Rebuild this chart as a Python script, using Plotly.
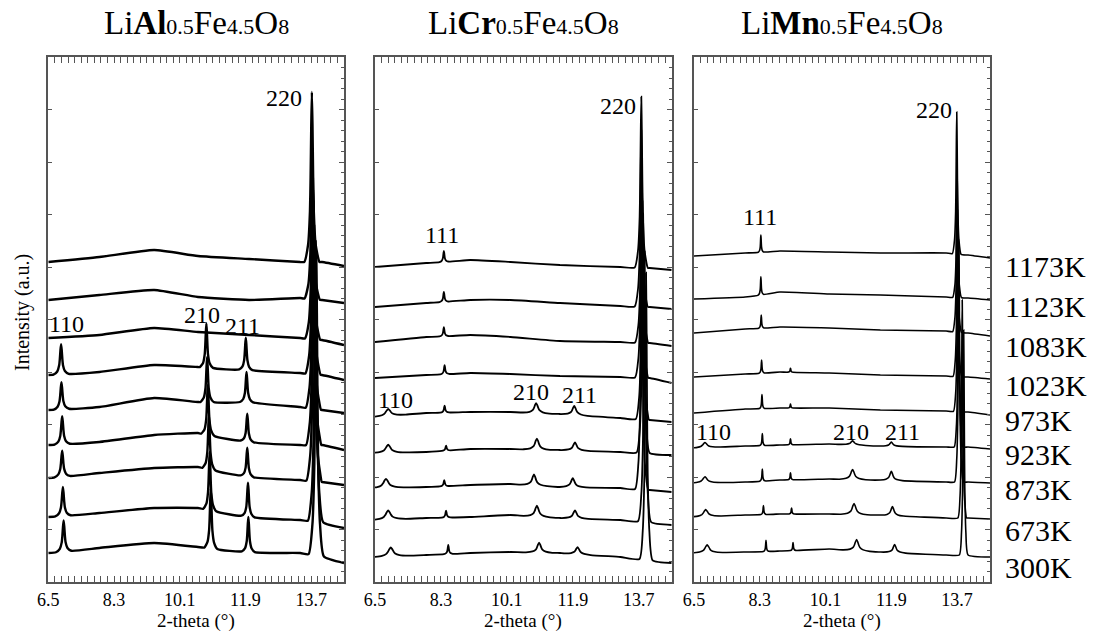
import numpy as np
import plotly.graph_objects as go

# ---------------- data ----------------
temps = ["1173K", "1123K", "1083K", "1023K", "973K", "923K", "873K", "673K", "300K"]
titles = [
    "Li<b>Al</b><span style='font-size:22px'>0.5</span>Fe<span style='font-size:22px'>4.5</span>O<span style='font-size:22px'>8</span>",
    "Li<b>Cr</b><span style='font-size:22px'>0.5</span>Fe<span style='font-size:22px'>4.5</span>O<span style='font-size:22px'>8</span>",
    "Li<b>Mn</b><span style='font-size:22px'>0.5</span>Fe<span style='font-size:22px'>4.5</span>O<span style='font-size:22px'>8</span>",
]
x_major_ticks = [6.5, 7.4, 8.3, 9.2, 10.1, 11.0, 11.9, 12.8, 13.7, 14.6]
x_tick_labels = ["6.5", "", "8.3", "", "10.1", "", "11.9", "", "13.7", ""]

# generic peak profile (offsets in HWHM units, fraction of peak height)
peak_dx = [-6, -3, -1.5, -1, -0.5, 0, 0.5, 1, 1.5, 3, 6]
peak_frac = [0, 0.1, 0.3, 0.5, 0.8, 1, 0.8, 0.5, 0.3, 0.1, 0]

# ---- LiAl0.5Fe4.5O8 ----
al_base_x = [6.5, 7.9, 9.4, 10.6, 12.0, 13.4, 14.0, 14.6]
al_base = [
    [320, 325, 332, 326, 323, 320, 320, 316],
    [282, 287, 292, 285, 282, 284, 282, 279],
    [244, 247, 254, 250, 247, 244, 242, 237],
    [207, 210, 217, 215, 212, 209, 207, 202],
    [172, 175, 184, 180, 180, 175, 172, 169],
    [137, 140, 147, 149, 140, 137, 137, 132],
    [104, 109, 114, 115, 105, 102, 100, 97],
    [65, 69, 74, 74, 65, 62, 60, 54],
    [29, 34, 39, 35, 30, 29, 26, 19],
]
al_110_pos = [None, None, None, 6.85, 6.86, 6.88, 6.88, 6.90, 6.92]
al_110_int = [0, 0, 0, 30, 27, 28, 26, 29, 31]
al_210_pos = [None, None, None, 10.83, 10.85, 10.87, 10.90, 10.92, 10.95]
al_210_int = [0, 0, 0, 44, 45, 50, 55, 58, 60]
al_211_pos = [None, None, None, 11.91, 11.93, 11.95, 11.95, 11.97, 11.98]
al_211_int = [0, 0, 0, 32, 30, 28, 29, 34, 35]
al_220_pos = [13.72, 13.73, 13.74, 13.75, 13.76, 13.77, 13.78, 13.82, 13.84]
al_220_int = [170, 149, 163, 183, 207, 230, 255, 280, 303]
al_hwhm = {"110": 0.035, "210": 0.03, "211": 0.03, "220": 0.035}

# ---- LiCr0.5Fe4.5O8 ----
cr_base_x = [6.5, 7.9, 9.1, 10.2, 11.55, 13.2, 14.0, 14.6]
cr_base = [
    [315, 319, 322, 320, 317, 315, 314, 312],
    [275, 279, 282, 282, 279, 276, 275, 273],
    [240, 245, 247, 245, 241, 240, 239, 236],
    [204, 207, 209, 208, 206, 205, 204, 199],
    [165, 169, 170, 170, 168, 164, 162, 160],
    [129, 130, 133, 133, 132, 130, 129, 127],
    [94, 95, 97, 98, 95, 94, 92, 90],
    [62, 64, 65, 67, 64, 62, 60, 57],
    [25, 27, 29, 30, 29, 25, 22, 19],
]
cr_111_pos = [8.38, 8.38, 8.38, 8.40, 8.40, 8.44, 8.39, 8.44, 8.50]
cr_111_int = [11, 10, 9, 9, 7, 5, 6, 7, 9]
cr_110_pos = [None, None, None, None, 6.86, 6.86, 6.80, 6.86, 6.93]
cr_110_int = [0, 0, 0, 0, 7, 8, 9, 9, 9]
cr_210_pos = [None, None, None, None, 10.90, 10.92, 10.84, 10.92, 10.98]
cr_210_int = [0, 0, 0, 0, 10, 11, 11, 11, 10]
cr_211_pos = [None, None, None, None, 11.94, 11.96, 11.90, 11.96, 12.03]
cr_211_int = [0, 0, 0, 0, 9, 8, 9, 8, 7]
cr_220_pos = [13.77, 13.77, 13.78, 13.78, 13.80, 13.82, 13.78, 13.86, 13.90]
cr_220_int = [171, 176, 175, 192, 218, 239, 258, 270, 287]
cr_hwhm = {"110": 0.08, "111": 0.02, "210": 0.06, "211": 0.06, "220": 0.03}

# ---- LiMn0.5Fe4.5O8 ----
mn_base_x = [6.5, 7.9, 8.85, 10.2, 11.6, 13.4, 14.0, 14.6]
mn_base = [
    [326, 329, 331, 330, 329, 329, 327, 324],
    [283, 285, 290, 288, 287, 285, 284, 282],
    [249, 253, 255, 254, 252, 251, 249, 246],
    [205, 208, 210, 209, 207, 206, 205, 203],
    [169, 173, 174, 174, 172, 171, 170, 167],
    [134, 136, 137, 138, 136, 135, 135, 133],
    [99, 100, 102, 103, 102, 100, 100, 99],
    [65, 67, 68, 68, 67, 64, 64, 63],
    [29, 30, 31, 33, 30, 27, 27, 25],
]
mn_111_pos = [8.33, 8.33, 8.34, 8.35, 8.36, 8.37, 8.37, 8.40, 8.47]
mn_111_int = [17, 18, 13, 13, 14, 12, 12, 9, 11]
mn_x_pos = [None, None, None, 9.14, 9.14, 9.14, 9.14, 9.17, 9.21]
mn_x_int = [0, 0, 0, 4, 4, 6, 7, 6, 8]
mn_110_pos = [None, None, None, None, None, 6.80, 6.80, 6.82, 6.86]
mn_110_int = [0, 0, 0, 0, 0, 5, 6, 7, 8]
mn_210_pos = [None, None, None, None, None, 10.84, 10.84, 10.88, 10.95]
mn_210_int = [0, 0, 0, 0, 0, 4, 10, 11, 11]
mn_211_pos = [None, None, None, None, None, 11.90, 11.90, 11.93, 11.99]
mn_211_int = [0, 0, 0, 0, 0, 4, 9, 9, 8]
mn_220_pos = [13.69, 13.70, 13.70, 13.71, 13.72, 13.74, 13.75, 13.84, 13.88]
mn_220_int = [142, 125, 141, 166, 181, 207, 232, 218, 225]
mn_hwhm = {"110": 0.07, "111": 0.012, "x": 0.012, "210": 0.06, "211": 0.05, "220": 0.02}

# peak labels: (panel, text, 2-theta, intensity)
peak_labels = [
    (0, "220", 12.95, 484), (0, "110", 7.01, 258), (0, "210", 10.71, 267), (0, "211", 11.83, 256),
    (1, "220", 13.14, 476), (1, "111", 8.33, 347), (1, "110", 7.07, 182), (1, "210", 10.76, 190), (1, "211", 12.07, 187),
    (2, "220", 13.06, 472), (2, "111", 8.30, 365), (2, "110", 7.02, 150), (2, "210", 10.79, 150), (2, "211", 12.21, 150),
]

panels = [
    dict(base_x=al_base_x, base=al_base, hw=al_hwhm,
         peaks={"110": (al_110_pos, al_110_int), "210": (al_210_pos, al_210_int),
                "211": (al_211_pos, al_211_int), "220": (al_220_pos, al_220_int)}),
    dict(base_x=cr_base_x, base=cr_base, hw=cr_hwhm,
         peaks={"110": (cr_110_pos, cr_110_int), "111": (cr_111_pos, cr_111_int),
                "210": (cr_210_pos, cr_210_int), "211": (cr_211_pos, cr_211_int),
                "220": (cr_220_pos, cr_220_int)}),
    dict(base_x=mn_base_x, base=mn_base, hw=mn_hwhm,
         peaks={"110": (mn_110_pos, mn_110_int), "111": (mn_111_pos, mn_111_int),
                "x": (mn_x_pos, mn_x_int), "210": (mn_210_pos, mn_210_int),
                "211": (mn_211_pos, mn_211_int), "220": (mn_220_pos, mn_220_int)}),
]

# ---------------- layout geometry ----------------
W, H = 1099, 632
x_domains = [[48.3 / W, 344.0 / W], [375.0 / W, 671.7 / W], [694.0 / W, 990.0 / W]]
y_domain = [1 - 582.0 / H, 1 - 57.0 / H]
line_widths = [2.4, 1.8, 1.6]
Y_MAX = 525.0
FONT = "Liberation Serif, Times New Roman, serif"
AX_COLOR = "#555555"


def build_pattern(base_x, base_y, peaks):
    spans = [(c - 6 * g, c + 6 * g) for c, h, g in peaks]
    pts = [(x, y) for x, y in zip(base_x, base_y)
           if not any(a <= x <= b for a, b in spans)]
    for c, h, g in peaks:
        for d, f in zip(peak_dx, peak_frac):
            xx = c + d * g
            pts.append((xx, float(np.interp(xx, base_x, base_y)) + h * f))
    pts.sort(key=lambda p: p[0])
    return [p[0] for p in pts], [p[1] for p in pts]


fig = go.Figure()
for pi, P in enumerate(panels):
    xa = "x" if pi == 0 else f"x{pi + 1}"
    ya = "y" if pi == 0 else f"y{pi + 1}"
    for ti in range(len(temps)):
        pk = []
        for name, (pos, inten) in P["peaks"].items():
            if pos[ti] is not None and inten[ti] > 0:
                pk.append((pos[ti], inten[ti], P["hw"][name]))
        xs, ys = build_pattern(P["base_x"], P["base"][ti], pk)
        fig.add_trace(go.Scatter(x=xs, y=ys, mode="lines", xaxis=xa, yaxis=ya,
                                 line=dict(color="black", width=line_widths[pi],
                                           shape="spline", smoothing=0.5),
                                 showlegend=False, hoverinfo="skip",
                                 name=f"{temps[ti]}"))

layout = dict(
    width=W, height=H, autosize=False,
    margin=dict(l=0, r=0, t=0, b=0, autoexpand=False),
    paper_bgcolor="white", plot_bgcolor="white",
    showlegend=False,
    font=dict(family=FONT, color="black"),
)
minor_x = [round(6.5 + 0.18 * k, 2) for k in range(46)]
y_major = [round(52.5 * k, 1) for k in range(11)]
y_minor = [round(10.5 * k, 1) for k in range(51)]
for pi in range(3):
    sx = "" if pi == 0 else str(pi + 1)
    layout[f"xaxis{sx}"] = dict(
        domain=x_domains[pi], anchor=f"y{sx}", range=[6.5, 14.6], automargin=False,
        tickmode="array", tickvals=x_major_ticks, ticktext=x_tick_labels,
        ticks="inside", ticklen=6, tickwidth=1.2, tickcolor=AX_COLOR,
        minor=dict(tickmode="array", tickvals=minor_x, ticks="inside", ticklen=3,
                   tickwidth=1, tickcolor=AX_COLOR, showgrid=False),
        showline=True, linecolor=AX_COLOR, linewidth=1.6, mirror="allticks",
        showgrid=False, zeroline=False,
        tickfont=dict(family=FONT, size=18, color="black"),
        ticklabelstandoff=1,
    )
    layout[f"yaxis{sx}"] = dict(
        domain=y_domain, anchor=f"x{sx}", range=[0, Y_MAX], automargin=False,
        tickmode="array", tickvals=y_major, ticks="inside", ticklen=4,
        tickwidth=1.2, tickcolor=AX_COLOR, showticklabels=False,
        showline=True, linecolor=AX_COLOR, linewidth=1.6, mirror=True,
        showgrid=False, zeroline=False,
    )
    layout[f"yaxis{pi + 4}"] = dict(
        domain=y_domain, anchor=f"x{sx}", overlaying=f"y{sx}", side="right",
        range=[0, Y_MAX], automargin=False, tickmode="array", tickvals=y_major,
        ticks="inside", ticklen=5, tickwidth=1.2, tickcolor=AX_COLOR,
        showticklabels=False,
        minor=dict(tickmode="array", tickvals=y_minor, ticks="inside", ticklen=3,
                   tickwidth=1, tickcolor=AX_COLOR, showgrid=False),
        showline=False, showgrid=False, zeroline=False,
    )
fig.update_layout(**layout)
# empty traces so the right-side tick axes are drawn
for pi in range(3):
    sx = "" if pi == 0 else str(pi + 1)
    fig.add_trace(go.Scatter(x=[None], y=[None], xaxis=f"x{sx}", yaxis=f"y{pi + 4}",
                             showlegend=False, hoverinfo="skip"))

ann = []
for pi in range(3):
    cx = (x_domains[pi][0] + x_domains[pi][1]) / 2
    ann.append(dict(text=titles[pi], x=cx, y=1 - 23 / H, xref="paper", yref="paper",
                    showarrow=False, xanchor="center", yanchor="middle",
                    font=dict(family=FONT, size=33, color="black")))
    ann.append(dict(text="2-theta (°)", x=cx, y=1 - 621 / H, xref="paper", yref="paper",
                    showarrow=False, xanchor="center", yanchor="middle",
                    font=dict(family=FONT, size=19, color="black")))
ann.append(dict(text="Intensity (a.u.)", x=22 / W, y=1 - 313 / H, xref="paper", yref="paper",
                showarrow=False, textangle=-90, xanchor="center", yanchor="middle",
                font=dict(family=FONT, size=20, color="black")))
temp_label_y = [266, 306, 346, 385, 420, 454, 489, 530, 567]
for t, py in zip(temps, temp_label_y):
    ann.append(dict(text=t, x=1003 / W, y=1 - py / H, xref="paper", yref="paper",
                    showarrow=False, xanchor="left", yanchor="middle",
                    font=dict(family=FONT, size=30, color="black")))
for pi, txt, xv, yv in peak_labels:
    sx = "" if pi == 0 else str(pi + 1)
    ann.append(dict(text=txt, x=xv, y=yv, xref=f"x{sx}", yref=f"y{sx}",
                    showarrow=False, xanchor="center", yanchor="middle",
                    font=dict(family=FONT, size=24, color="black")))
fig.update_layout(annotations=ann)

fig.write_html("out.html",
               config={"displayModeBar": False},
               post_script="document.body.style.margin='0';document.body.style.overflow='hidden';")
